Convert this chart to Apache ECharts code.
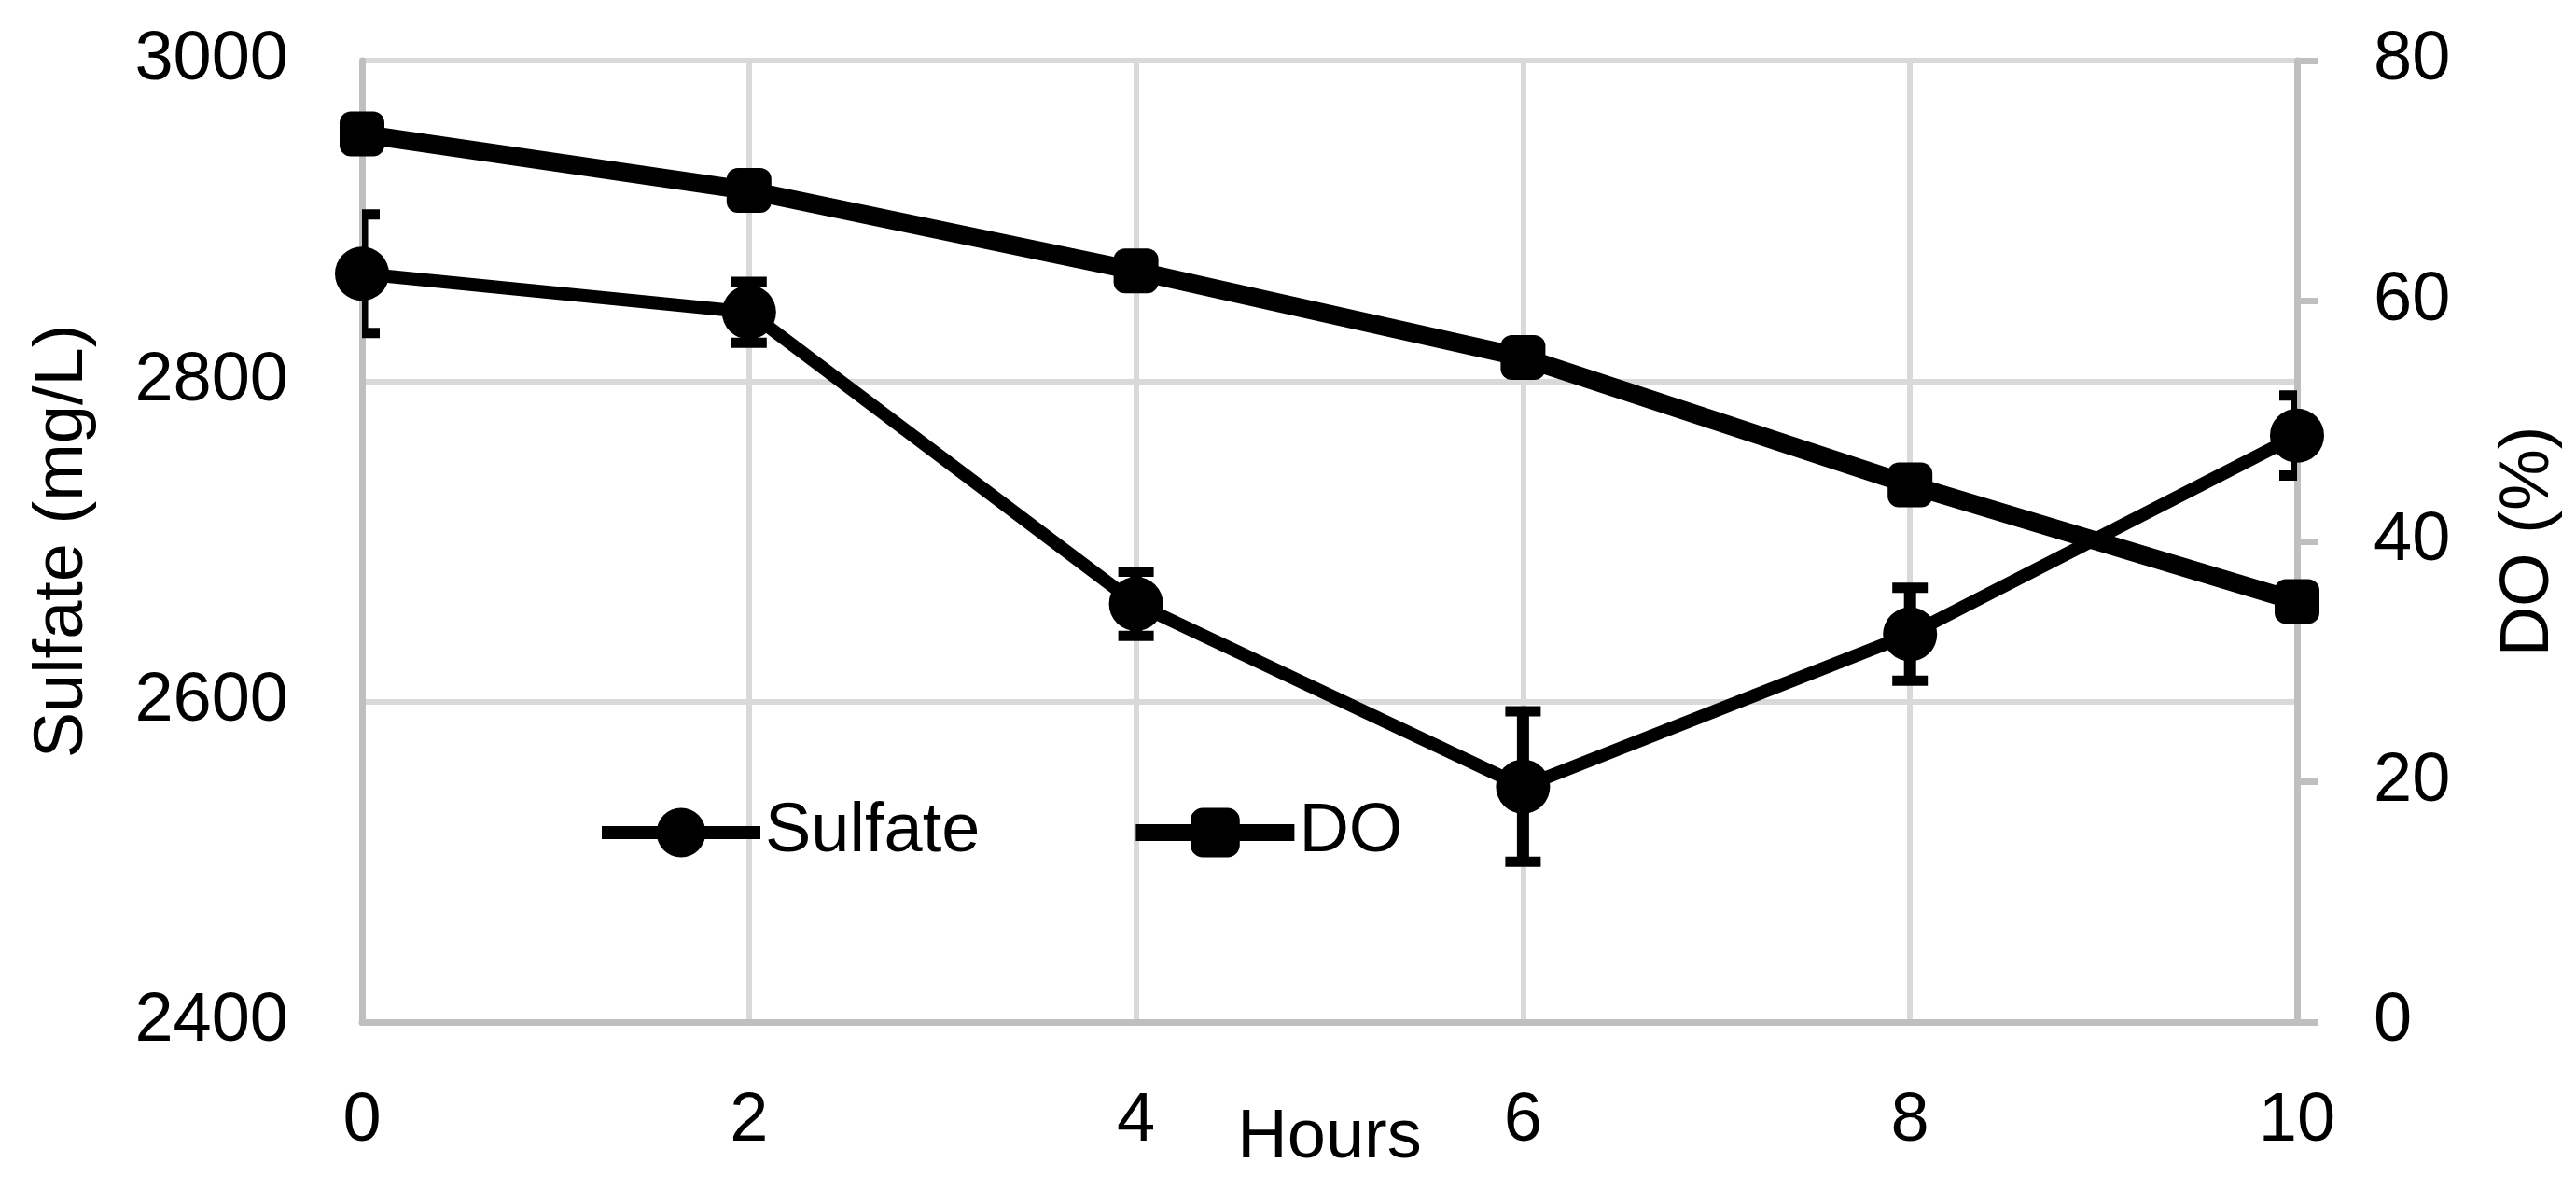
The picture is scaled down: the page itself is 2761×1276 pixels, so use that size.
<!DOCTYPE html>
<html><head><meta charset="utf-8">
<script src="https://cdn.jsdelivr.net/npm/echarts@6/dist/echarts.min.js"></script>
<style>html,body{margin:0;padding:0;background:#fff}#c{width:2761px;height:1276px}</style>
</head><body><div id="c"></div>
<script>
// ---- data ----
const hours = [0, 2, 4, 6, 8, 10];
const sulfate = [2867, 2843, 2661, 2547, 2642, 2766];
const sulfateErr = [37, 19, 20, 47, 29, 25];
const doPct = [73.9, 69.2, 62.5, 55.3, 44.7, 35.0];
const xTicks = [0, 2, 4, 6, 8, 10];
const leftTicks = [2400, 2600, 2800, 3000];
const rightTicks = [0, 20, 40, 60, 80];

const FONT = "'Liberation Sans', Arial, sans-serif";
const FS = 74;
const gridColor = '#d9d9d9';
const axisColor = '#bfbfbf';

const chart = echarts.init(document.getElementById('c'), null, {renderer: 'canvas'});

const sulData = hours.map((h, i) => [h, sulfate[i]]);
const doData = hours.map((h, i) => [h, doPct[i]]);
const errData = hours.map((h, i) => [h, sulfate[i], sulfateErr[i]]);
const plain = v => String(v);

chart.setOption({
  animation: false,
  backgroundColor: '#fff',
  textStyle: {fontFamily: FONT, color: '#000'},
  grid: {left: 388, right: 299, top: 65, bottom: 181, containLabel: false, outerBoundsMode: 'none'},
  legend: {
    data: [
      {name: 'Sulfate', lineStyle: {width: 14, color: '#000'}},
      {name: 'DO', lineStyle: {width: 18, color: '#000'}}
    ],
    left: 633, top: 850,
    itemWidth: 170, itemHeight: 66, itemGap: 158,
    textStyle: {fontFamily: FONT, fontSize: FS, color: '#000'},
    selectedMode: false
  },
  xAxis: {
    type: 'value',
    min: xTicks[0], max: xTicks[xTicks.length - 1], interval: xTicks[1] - xTicks[0],
    name: 'Hours', nameLocation: 'middle', nameGap: 88, nameMoveOverlap: false,
    nameTextStyle: {fontFamily: FONT, fontSize: FS, color: '#000'},
    axisLine: {show: true, onZero: false, lineStyle: {color: axisColor, width: 7}},
    axisTick: {show: false},
    axisLabel: {fontFamily: FONT, fontSize: FS, color: '#000', margin: 70, formatter: plain},
    splitLine: {show: true, lineStyle: {color: gridColor, width: 6}}
  },
  yAxis: [
    {
      type: 'value', position: 'left',
      min: leftTicks[0], max: leftTicks[leftTicks.length - 1], interval: leftTicks[1] - leftTicks[0],
      name: 'Sulfate (mg/L)', nameLocation: 'middle', nameGap: 283, nameRotate: 90, nameMoveOverlap: false,
      nameTextStyle: {fontFamily: FONT, fontSize: FS, color: '#000'},
      axisLine: {show: true, onZero: false, lineStyle: {color: axisColor, width: 7}},
      axisTick: {show: false},
      axisLabel: {fontFamily: FONT, fontSize: FS, color: '#000', margin: 79, formatter: plain},
      splitLine: {show: true, lineStyle: {color: gridColor, width: 6}}
    },
    {
      type: 'value', position: 'right',
      min: rightTicks[0], max: rightTicks[rightTicks.length - 1], interval: rightTicks[1] - rightTicks[0],
      name: 'DO (%)', nameLocation: 'middle', nameGap: 212, nameRotate: 90, nameMoveOverlap: false,
      nameTextStyle: {fontFamily: FONT, fontSize: FS, color: '#000'},
      axisLine: {show: true, onZero: false, lineStyle: {color: axisColor, width: 7}},
      axisTick: {show: true, inside: false, length: 22, lineStyle: {color: axisColor, width: 7}},
      axisLabel: {fontFamily: FONT, fontSize: FS, color: '#000', margin: 82, formatter: plain},
      splitLine: {show: false}
    }
  ],
  series: [
    {
      name: 'Sulfate error', type: 'custom', yAxisIndex: 0, clip: true, z: 3,
      data: errData,
      silent: true,
      renderItem: function (params, api) {
        const x = api.value(0), y = api.value(1), e = api.value(2);
        const t = api.coord([x, y + e]);
        const b = api.coord([x, y - e]);
        const hw = 19;
        const st = {stroke: '#000', lineWidth: 13};
        const cs = {stroke: '#000', lineWidth: 11};
        return {type: 'group', children: [
          {type: 'line', shape: {x1: t[0], y1: t[1], x2: b[0], y2: b[1]}, style: st},
          {type: 'line', shape: {x1: t[0] - hw, y1: t[1], x2: t[0] + hw, y2: t[1]}, style: cs},
          {type: 'line', shape: {x1: b[0] - hw, y1: b[1], x2: b[0] + hw, y2: b[1]}, style: cs}
        ]};
      }
    },
    {
      name: 'Sulfate', type: 'line', yAxisIndex: 0, z: 4,
      data: sulData,
      symbol: 'circle', symbolSize: 58,
      lineStyle: {color: '#000', width: 14},
      itemStyle: {color: '#000'},
      emphasis: {disabled: true}
    },
    {
      name: 'DO', type: 'line', yAxisIndex: 1, z: 5,
      data: doData,
      symbol: 'roundRect', symbolSize: 48,
      lineStyle: {color: '#000', width: 20},
      itemStyle: {color: '#000'},
      emphasis: {disabled: true}
    }
  ]
});
</script>
</body></html>
